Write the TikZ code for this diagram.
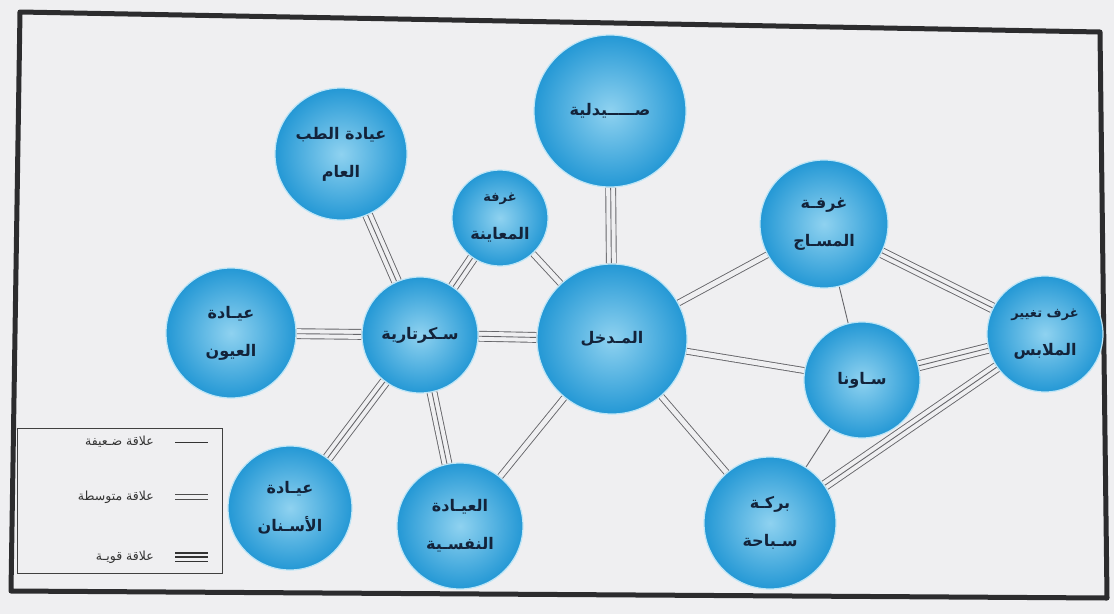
\documentclass[tikz,border=0pt]{standalone}
\usepackage{fontspec}
\newfontfamily\arabicfont[Script=Arabic]{DejaVu Sans}
\TeXXeTstate=1
\newcommand{\arr}[1]{\beginR #1\endR}
\pgfdeclarelayer{bglayer}
\pgfdeclarelayer{edgelayer}
\pgfsetlayers{bglayer,edgelayer,main}
\definecolor{bgc}{HTML}{EFEFF1}
\definecolor{lc}{HTML}{66666A}
\definecolor{ballout}{HTML}{2498D5}
\definecolor{ballin}{HTML}{8FD2F0}
\definecolor{halo}{HTML}{BEE5F6}
\definecolor{txtc}{HTML}{13233A}
\definecolor{framec}{HTML}{2C2C2E}
\tikzset{
  bub/.style={circle, minimum size=#1, inner sep=0pt, shading=radial,
    inner color=ballin, outer color=ballout, draw=halo, line width=1.2pt,
    text=txtc, align=center,
    font=\arabicfont\bfseries\fontsize{16}{38}\selectfont},
  weak/.style={draw=lc, line width=0.9pt},
  medium/.style={draw=lc, line width=0.9pt, double=bgc, double distance=5pt},
  strongouter/.style={draw=lc, line width=0.9pt, double=bgc, double distance=9pt},
  legtext/.style={anchor=east, inner sep=0pt, text=black!80,
    font=\arabicfont\fontsize{12.5}{14}\selectfont},
}
\begin{document}
\begin{tikzpicture}[x=1pt,y=-1pt]
\useasboundingbox (0,0) rectangle (1114,614);
\begin{pgfonlayer}{bglayer}
  \fill[bgc] (0,0) rectangle (1114,614);
  \draw[framec, line width=5pt, line join=round] (20,12) -- (1100,32) -- (1107,598) -- (11,591) -- cycle;
\end{pgfonlayer}

% nodes
\node[bub=152] (pharm)   at (610,111) {\arr{صـــــيدلية}};
\node[bub=132] (gp)      at (341,154) {\arr{عيادة الطب}\\\arr{العام}};
\node[bub=96]  (exam)    at (500,218) {\fontsize{13}{28}\selectfont\arr{غرفة}\\\arr{المعاينة}};
\node[bub=130] (eyes)    at (231,333) {\arr{عيـادة}\\\arr{العيون}};
\node[bub=116] (sec)     at (420,335) {\arr{سـكرتارية}};
\node[bub=150] (entr)    at (612,339) {\arr{المـدخل}};
\node[bub=128] (massage) at (824,224) {\arr{غرفـة}\\\arr{المسـاج}};
\node[bub=116] (sauna)   at (862,380) {\arr{سـاونا}};
\node[bub=116] (change)  at (1045,334) {\fontsize{13}{30}\selectfont\arr{غرف تغيير}\\\arr{الملابس}};
\node[bub=132] (pool)    at (770,523) {\arr{بركـة}\\\arr{سـباحة}};
\node[bub=124] (dent)    at (290,508) {\arr{عيـادة}\\\arr{الأسـنان}};
\node[bub=126] (psych)   at (460,526) {\arr{العيـادة}\\\arr{النفسـية}};

% connectors
\begin{pgfonlayer}{edgelayer}
  % strong (triple)
  \foreach \a/\b in {gp/sec, exam/sec, eyes/sec, sec/entr, sec/dent, sec/psych,
                     pharm/entr, massage/change, sauna/change, pool/change}{
    \draw[strongouter] (\a) -- (\b);
    \draw[weak] (\a) -- (\b);
  }
  % medium (double)
  \foreach \a/\b in {exam/entr, entr/massage, entr/sauna, entr/psych, entr/pool}{
    \draw[medium] (\a) -- (\b);
  }
  % weak (single)
  \draw[weak] (massage) -- (sauna);
  \draw[weak] (sauna) -- (pool);
\end{pgfonlayer}

% legend
\node[draw=black!75, line width=0.9pt, minimum width=205pt, minimum height=145pt,
      inner sep=0pt, anchor=north west] (legend) at (17,428) {};
\coordinate (l1a) at (175,442); \coordinate (l1b) at (208,442);
\coordinate (l2a) at (175,497); \coordinate (l2b) at (208,497);
\coordinate (l3a) at (175,557); \coordinate (l3b) at (208,557);
\draw[weak, draw=black!80] (l1a) -- (l1b);
\draw[medium, draw=black!70, double distance=4pt] (l2a) -- (l2b);
\draw[strongouter, draw=black!80, line width=1.1pt, double distance=7pt] (l3a) -- (l3b);
\draw[weak, draw=black!80, line width=1.1pt] (l3a) -- (l3b);
\node[legtext] (t1) at (154,442) {\arr{علاقة ضـعيفة}};
\node[legtext] (t2) at (154,497) {\arr{علاقة متوسطة}};
\node[legtext] (t3) at (154,557) {\arr{علاقة قويـة}};
\end{tikzpicture}
\end{document}
